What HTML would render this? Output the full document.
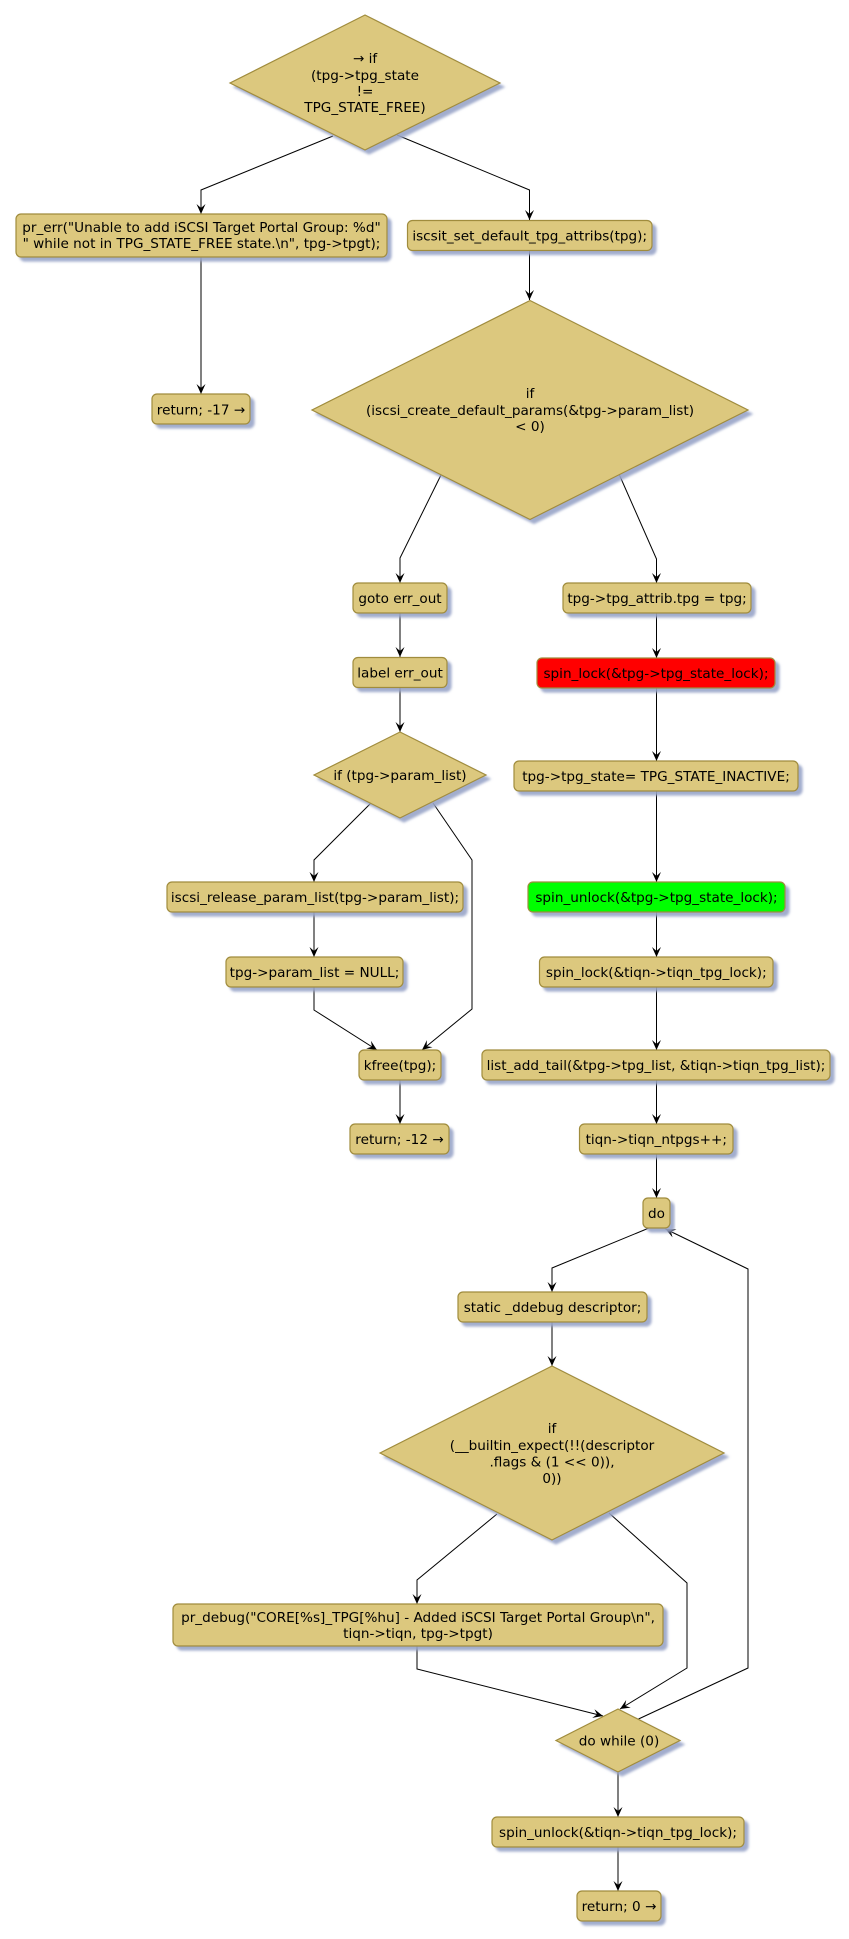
<!DOCTYPE html>
<html><head><meta charset="utf-8"><style>
html,body{margin:0;padding:0;background:#fff;}
svg{display:block;}
text{font-family:"DejaVu Sans","Liberation Sans",sans-serif;font-size:13.6px;fill:#000;text-anchor:middle;}
.b{fill:#DCC87E;stroke:#A08C3C;stroke-width:1.2;filter:url(#sh);}
.r{fill:#FF0000;stroke:#A08C3C;stroke-width:1.2;filter:url(#sh);}
.g{fill:#00FF00;stroke:#A08C3C;stroke-width:1.2;filter:url(#sh);}
.l{fill:none;stroke:#000;stroke-width:1;marker-end:url(#ar);}
</style></head><body>
<svg width="849" height="1939" viewBox="0 0 849 1939" xmlns="http://www.w3.org/2000/svg">
<defs>
<filter id="sh" x="-10%" y="-10%" width="130%" height="150%">
<feGaussianBlur in="SourceAlpha" stdDeviation="1.3" result="b"/>
<feOffset in="b" dx="4" dy="4" result="o"/>
<feFlood flood-color="#98A4C8" flood-opacity="0.9"/>
<feComposite in2="o" operator="in" result="s"/>
<feMerge><feMergeNode in="s"/><feMergeNode in="SourceGraphic"/></feMerge>
</filter>
<marker id="ar" markerUnits="userSpaceOnUse" markerWidth="11" markerHeight="10" refX="10" refY="4.5" orient="auto">
<path d="M0,0 L10,4.5 L0,9 L4,4.5 Z" fill="#000"/>
</marker>
</defs>

<!-- connectors -->
<polyline class="l" points="333,136 201,190 201,214"/>
<polyline class="l" points="397,135 529.5,190 529.5,220"/>
<polyline class="l" points="201,257 201,394"/>
<polyline class="l" points="529.5,251 529.5,300"/>
<polyline class="l" points="441,475 400,558 400,583"/>
<polyline class="l" points="619,474 656.5,559 656.5,583"/>
<polyline class="l" points="400,613 400,657"/>
<polyline class="l" points="656.5,613 656.5,658"/>
<polyline class="l" points="400,687 400,732"/>
<polyline class="l" points="656.5,688 656.5,761"/>
<polyline class="l" points="371,803 314,860 314,882"/>
<polyline class="l" points="433,803 472,860 472,1009 422,1050"/>
<polyline class="l" points="314,912 314,957"/>
<polyline class="l" points="314,987 314,1010 377,1050"/>
<polyline class="l" points="400,1080 400,1124"/>
<polyline class="l" points="656.5,791 656.5,882"/>
<polyline class="l" points="656.5,912 656.5,957"/>
<polyline class="l" points="656.5,987 656.5,1050"/>
<polyline class="l" points="656.5,1080 656.5,1124"/>
<polyline class="l" points="656.5,1154 656.5,1198"/>
<polyline class="l" points="649,1228 552,1268 552,1292"/>
<polyline class="l" points="552,1322 552,1366"/>
<polyline class="l" points="497,1514 417,1580 417,1604"/>
<polyline class="l" points="609,1513 687,1583 687,1668 620,1709"/>
<polyline class="l" points="417,1646 417,1669 603,1716"/>
<polyline class="l" points="638.5,1719 748,1668 748,1269 665.5,1229"/>
<polyline class="l" points="618,1772 618,1817"/>
<polyline class="l" points="618,1847 618,1891"/>

<!-- top diamond -->
<polygon class="b" points="365,15 500,83 365,150 230,83"/>
<text x="365" y="63">→ if</text>
<text x="365" y="80">(tpg-&gt;tpg_state</text>
<text x="365" y="96">!=</text>
<text x="365" y="112">TPG_STATE_FREE)</text>

<rect class="b" x="16" y="214" width="371" height="43" rx="5"/>
<text x="201.5" y="232" xml:space="preserve">pr_err("Unable to add iSCSI Target Portal Group: %d"</text>
<text x="201.5" y="248" xml:space="preserve">" while not in TPG_STATE_FREE state.\n", tpg-&gt;tpgt);</text>

<rect class="b" x="407.5" y="220.5" width="244.5" height="30" rx="5"/>
<text x="529.7" y="240.5">iscsit_set_default_tpg_attribs(tpg);</text>

<rect class="b" x="152" y="394" width="98" height="30" rx="5"/>
<text x="201" y="414.5">return; -17 →</text>

<!-- big diamond -->
<polygon class="b" points="530,300.5 748,410 530,519.5 312,410"/>
<text x="530" y="398">if</text>
<text x="530" y="415">(iscsi_create_default_params(&amp;tpg-&gt;param_list)</text>
<text x="530" y="431">&lt; 0)</text>

<rect class="b" x="353" y="583" width="94" height="30" rx="5"/>
<text x="400" y="603">goto err_out</text>

<rect class="b" x="563" y="583" width="188" height="30" rx="5"/>
<text x="657" y="603">tpg-&gt;tpg_attrib.tpg = tpg;</text>

<rect class="b" x="353" y="657.5" width="94" height="30" rx="5"/>
<text x="400" y="677.5">label err_out</text>

<rect class="r" x="537" y="658" width="238" height="30" rx="5"/>
<text x="656" y="678">spin_lock(&amp;tpg-&gt;tpg_state_lock);</text>

<polygon class="b" points="400,732 486,775 400,818 314,775"/>
<text x="400" y="780">if (tpg-&gt;param_list)</text>

<rect class="b" x="514" y="761" width="284" height="30" rx="5"/>
<text x="656" y="781">tpg-&gt;tpg_state= TPG_STATE_INACTIVE;</text>

<rect class="b" x="167" y="882" width="296" height="30" rx="5"/>
<text x="315" y="902">iscsi_release_param_list(tpg-&gt;param_list);</text>

<rect class="g" x="528" y="882" width="257" height="30" rx="5"/>
<text x="656.5" y="902">spin_unlock(&amp;tpg-&gt;tpg_state_lock);</text>

<rect class="b" x="226" y="957" width="177" height="30" rx="5"/>
<text x="314.5" y="977">tpg-&gt;param_list = NULL;</text>

<rect class="b" x="539.5" y="957" width="233.5" height="30" rx="5"/>
<text x="656.3" y="977">spin_lock(&amp;tiqn-&gt;tiqn_tpg_lock);</text>

<rect class="b" x="359" y="1050" width="82" height="30" rx="5"/>
<text x="400" y="1070">kfree(tpg);</text>

<rect class="b" x="482" y="1050" width="348" height="30" rx="5"/>
<text x="656" y="1070">list_add_tail(&amp;tpg-&gt;tpg_list, &amp;tiqn-&gt;tiqn_tpg_list);</text>

<rect class="b" x="350" y="1124" width="99" height="30" rx="5"/>
<text x="399.5" y="1144">return; -12 →</text>

<rect class="b" x="579.5" y="1124" width="153.5" height="30" rx="5"/>
<text x="656.3" y="1144">tiqn-&gt;tiqn_ntpgs++;</text>

<rect class="b" x="643" y="1198" width="27" height="30" rx="5"/>
<text x="656.5" y="1218">do</text>

<rect class="b" x="458" y="1292" width="189" height="30" rx="5"/>
<text x="552.5" y="1312">static _ddebug descriptor;</text>

<!-- big2 diamond -->
<polygon class="b" points="552,1366 724,1453 552,1540 380,1453"/>
<text x="552" y="1433">if</text>
<text x="552" y="1450">(__builtin_expect(!!(descriptor</text>
<text x="552" y="1466.5">.flags &amp; (1 &lt;&lt; 0)),</text>
<text x="552" y="1483">0))</text>

<rect class="b" x="173" y="1604" width="490" height="42" rx="5"/>
<text x="418" y="1622">pr_debug("CORE[%s]_TPG[%hu] - Added iSCSI Target Portal Group\n",</text>
<text x="418" y="1638">tiqn-&gt;tiqn, tpg-&gt;tpgt)</text>

<polygon class="b" points="618,1709 680,1740.5 618,1772 556,1740.5"/>
<text x="619" y="1745.5">do while (0)</text>

<rect class="b" x="492" y="1817" width="252" height="30" rx="5"/>
<text x="618" y="1837">spin_unlock(&amp;tiqn-&gt;tiqn_tpg_lock);</text>

<rect class="b" x="577" y="1891" width="84" height="30" rx="5"/>
<text x="619" y="1911">return; 0 →</text>
</svg>
</body></html>
